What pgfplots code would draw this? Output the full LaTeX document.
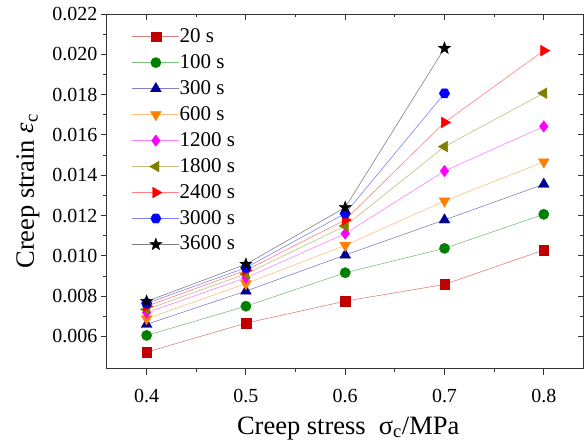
\documentclass[border=0pt]{standalone}
\usepackage{fontspec}
\setmainfont{Liberation Serif}
\usepackage{pgfplots}
\pgfplotsset{compat=1.18}
\usetikzlibrary{calc}
\definecolor{c1}{HTML}{C00000}
\definecolor{c2}{HTML}{008000}
\definecolor{c3}{HTML}{000090}
\definecolor{c4}{HTML}{FF8000}
\definecolor{c5}{HTML}{FF00FF}
\definecolor{c6}{HTML}{808000}
\definecolor{c7}{HTML}{FF0000}
\definecolor{c8}{HTML}{0000FF}
\definecolor{c9}{HTML}{000000}
\pgfdeclareplotmark{hexagon*}{%
  \pgfpathmoveto{\pgfpointpolar{0}{\pgfplotmarksize}}%
  \pgfpathlineto{\pgfpointpolar{60}{\pgfplotmarksize}}%
  \pgfpathlineto{\pgfpointpolar{120}{\pgfplotmarksize}}%
  \pgfpathlineto{\pgfpointpolar{180}{\pgfplotmarksize}}%
  \pgfpathlineto{\pgfpointpolar{240}{\pgfplotmarksize}}%
  \pgfpathlineto{\pgfpointpolar{300}{\pgfplotmarksize}}%
  \pgfpathclose\pgfusepathqfillstroke}
\pgfdeclareplotmark{starf}{%
  \pgfpathmoveto{\pgfpointpolar{90}{\pgfplotmarksize}}%
  \pgfpathlineto{\pgfpointpolar{126}{0.42\pgfplotmarksize}}%
  \pgfpathlineto{\pgfpointpolar{162}{\pgfplotmarksize}}%
  \pgfpathlineto{\pgfpointpolar{198}{0.42\pgfplotmarksize}}%
  \pgfpathlineto{\pgfpointpolar{234}{\pgfplotmarksize}}%
  \pgfpathlineto{\pgfpointpolar{270}{0.42\pgfplotmarksize}}%
  \pgfpathlineto{\pgfpointpolar{306}{\pgfplotmarksize}}%
  \pgfpathlineto{\pgfpointpolar{342}{0.42\pgfplotmarksize}}%
  \pgfpathlineto{\pgfpointpolar{18}{\pgfplotmarksize}}%
  \pgfpathlineto{\pgfpointpolar{54}{0.42\pgfplotmarksize}}%
  \pgfpathclose\pgfusepathqfillstroke}
\pgfplotsset{
  ser/.style n args={4}{color=#1!50, line width=0.6pt, mark=#2, mark size=#3,
    mark options={fill=#1, draw=#1, solid, line width=0.3pt, #4}},
  common/.style={scale only axis, width=477pt, height=355pt,
    xmin=0.36, xmax=0.84, ymin=0.0044, ymax=0.022,
    xtick={0.4,0.5,0.6,0.7,0.8},
    ytick={0.006,0.008,0.010,0.012,0.014,0.016,0.018,0.020,0.022},
    minor x tick num=1, minor y tick num=1,
    scaled y ticks=false, scaled x ticks=false,
    axis line style={line width=0.9pt, black!80},
    major tick length=6pt, minor tick length=3.5pt,
    every tick/.style={line width=0.9pt, black!80}},
}
\begin{document}
\begin{tikzpicture}
\begin{axis}[common, name=ax,
  tick align=outside, xtick pos=bottom, ytick pos=left,
  /pgf/number format/assume math mode=true,
  yticklabel={\rmfamily\pgfmathprintnumber[fixed, fixed zerofill, precision=3, assume math mode=true]{\tick}},
  xticklabel={\rmfamily\pgfmathprintnumber[fixed, fixed zerofill, precision=1, assume math mode=true]{\tick}},
  tick label style={font=\rmfamily\fontsize{20}{23}\selectfont},
  xticklabel style={yshift=-11pt},
  xlabel={Creep stress\ \ σ\textsubscript{c}/MPa},
  ylabel={Creep strain \textit{ε}\textsubscript{c}},
  label style={font=\rmfamily\fontsize{26.5}{30}\selectfont},
  xlabel style={yshift=-7pt, xshift=3pt},
  ylabel style={yshift=6pt},
  legend style={draw=none, fill=none, at={(axis description cs:0,1)}, anchor=north west,
    xshift=25pt, yshift=-14pt, inner sep=0pt,
    font=\rmfamily\fontsize{21}{24}\selectfont, row sep=9pt,
    nodes={inner sep=0pt, text height=14pt, text depth=3pt},
    /tikz/every even column/.append style={column sep=10pt}},
  legend cell align=left,
  legend image code/.code={\draw[#1, mark repeat=2, mark phase=2] plot coordinates {(0pt,0pt) (23.5pt,0pt) (47pt,0pt)};},
]
\addplot[ser={c1}{square*}{4.8}{}] coordinates {(0.4,0.00522) (0.5,0.00666) (0.6,0.00775) (0.7,0.00858) (0.8,0.01029)};
\addlegendentry{20 s}
\addplot[ser={c2}{*}{5.2}{}] coordinates {(0.4,0.00605) (0.5,0.00750) (0.6,0.00916) (0.7,0.01037) (0.8,0.01206)};
\addlegendentry{100 s}
\addplot[ser={c3}{triangle*}{6.3}{}] coordinates {(0.4,0.00660) (0.5,0.00825) (0.6,0.01004) (0.7,0.01178) (0.8,0.01355)};
\addlegendentry{300 s}
\addplot[ser={c4}{triangle*}{6.3}{rotate=180}] coordinates {(0.4,0.00688) (0.5,0.00862) (0.6,0.01052) (0.7,0.01272) (0.8,0.01466)};
\addlegendentry{600 s}
\addplot[ser={c5}{diamond*}{5.8}{}] coordinates {(0.4,0.00718) (0.5,0.00891) (0.6,0.01110) (0.7,0.01421) (0.8,0.01642)};
\addlegendentry{1200 s}
\addplot[ser={c6}{triangle*}{6.3}{rotate=90}] coordinates {(0.4,0.00734) (0.5,0.00910) (0.6,0.01148) (0.7,0.01542) (0.8,0.01807)};
\addlegendentry{1800 s}
\addplot[ser={c7}{triangle*}{6.3}{rotate=-90}] coordinates {(0.4,0.00750) (0.5,0.00928) (0.6,0.01178) (0.7,0.01662) (0.8,0.02018)};
\addlegendentry{2400 s}
\addplot[ser={c8}{hexagon*}{5.3}{}] coordinates {(0.4,0.00764) (0.5,0.00941) (0.6,0.01210) (0.7,0.01806)};
\addlegendentry{3000 s}
\addplot[ser={c9}{starf}{6.5}{}] coordinates {(0.4,0.00774) (0.5,0.00958) (0.6,0.01240) (0.7,0.02030)};
\addlegendentry{3600 s}
\end{axis}
\begin{axis}[common, tick align=inside, xtick pos=top, ytick pos=right,
  xticklabels={}, yticklabels={}]
\end{axis}
\pgfresetboundingbox
\path[use as bounding box] ($(ax.south west)+(-107pt,-74pt)$) rectangle ($(ax.north east)+(0.5pt,14pt)$);
\end{tikzpicture}
\end{document}
